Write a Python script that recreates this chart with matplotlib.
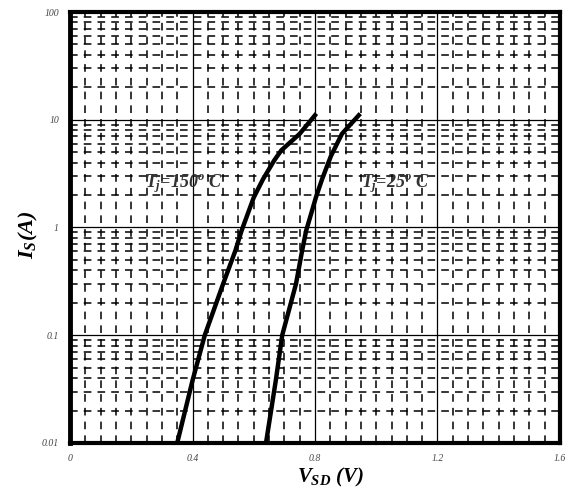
import matplotlib
matplotlib.use("Agg")
import matplotlib.pyplot as plt
import numpy as np

plt.rcParams['font.family'] = ['Liberation Serif', 'DejaVu Serif']
plt.rcParams['mathtext.fontset'] = 'custom'
plt.rcParams['mathtext.it'] = 'Liberation Serif:bold:italic'
plt.rcParams['mathtext.rm'] = 'Liberation Serif:bold:italic'
plt.rcParams['mathtext.bf'] = 'Liberation Serif:bold:italic'

# Tj = 150 C curve
v_hot = [0.35, 0.40, 0.44, 0.50, 0.54, 0.56, 0.60, 0.63, 0.667, 0.69, 0.75, 0.80]
i_hot = [0.01, 0.038, 0.1, 0.30, 0.61, 0.93, 1.9, 2.8, 4.2, 5.2, 7.4, 11.0]
# Tj = 25 C curve
v_cold = [0.64, 0.672, 0.693, 0.738, 0.758, 0.771, 0.803, 0.823, 0.852, 0.888, 0.943]
i_cold = [0.01, 0.038, 0.1, 0.30, 0.61, 0.93, 1.9, 2.8, 4.6, 7.4, 11.0]

x_ticks = [0, 0.4, 0.8, 1.2, 1.6]
x_tick_labels = ["0", "0.4", "0.8", "1.2", "1.6"]
y_ticks = [0.01, 0.1, 1, 10, 100]
y_tick_labels = ["0.01", "0.1", "1", "10", "100"]

fig = plt.figure(figsize=(5.65, 4.9), dpi=100)
ax = fig.add_axes([0.124, 0.096, 0.867, 0.8795])
ax.set_yscale('log')
ax.set_xlim(0, 1.6)
ax.set_ylim(0.01, 100)

# grid: dashed minor lines, solid major lines
dash = (0, (5, 4))
for x in np.arange(0.05, 1.6, 0.05):
    if abs(x / 0.4 - round(x / 0.4)) < 1e-6:
        ax.axvline(x, color='black', lw=0.9, zorder=1)
    else:
        ax.axvline(x, color='black', lw=1.1, ls=dash, zorder=1)
for dec in [0.01, 0.1, 1, 10]:
    for m in range(2, 10):
        ax.axhline(dec * m, color='black', lw=1.1, ls=dash, zorder=1)
    if dec > 0.01:
        ax.axhline(dec, color='black', lw=0.9, zorder=1)

ax.plot(v_hot, i_hot, color='black', lw=3.2, zorder=3)
ax.plot(v_cold, i_cold, color='black', lw=3.2, zorder=3)

ax.text(0.245, 2.55, r'$T_j$=150$^o$ C', fontsize=13, color='#333333',
        fontweight='bold', style='italic', va='center', zorder=4)
ax.text(0.95, 2.55, r'$T_j$=25$^o$ C', fontsize=13, color='#333333',
        fontweight='bold', style='italic', va='center', zorder=4)

ax.set_xticks(x_ticks)
ax.set_xticklabels(x_tick_labels, fontsize=7, style='italic', color='#444444')
ax.set_yticks(y_ticks)
ax.set_yticklabels(y_tick_labels, fontsize=7, style='italic', color='#444444')
ax.yaxis.set_minor_locator(matplotlib.ticker.NullLocator())
ax.tick_params(length=0, pad=8)
ax.tick_params(axis='x', pad=8)

for s in ax.spines.values():
    s.set_linewidth(3)
ax.spines['left'].set_linewidth(3.5)

fig.text(28 / 565, 1 - 235 / 490, r'$I_S(A)$', fontsize=16, rotation=90,
         ha='center', va='center')
fig.text(330 / 565, 1 - 477 / 490, r'$V_{SD}$ $(V)$', fontsize=15,
         ha='center', va='center')

fig.savefig('out.png', dpi=100)
